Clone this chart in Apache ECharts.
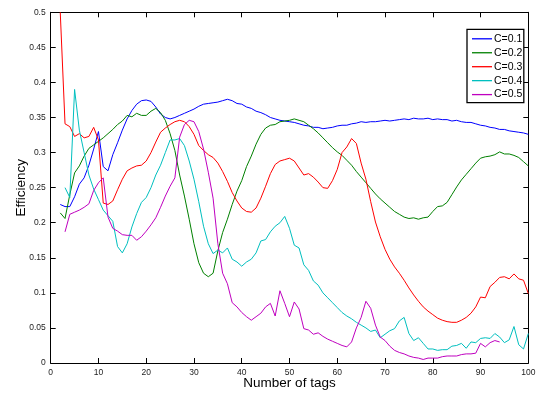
<!DOCTYPE html>
<html><head><meta charset="utf-8">
<script src="https://cdn.jsdelivr.net/npm/echarts@6/dist/echarts.min.js"></script>
<style>html,body{margin:0;padding:0;background:#fff}#c{width:537px;height:394px}</style>
</head><body><div id="c"></div>
<script>
// Number of tags (x values)
const xs = [2,3,4,5,6,7,8,9,10,
  11,12,13,14,15,16,17,18,19,20,
  21,22,23,24,25,26,27,28,29,30,
  31,32,33,34,35,36,37,38,39,40,
  41,42,43,44,45,46,47,48,49,50,
  51,52,53,54,55,56,57,58,59,60,
  61,62,63,64,65,66,67,68,69,70,
  71,72,73,74,75,76,77,78,79,80,
  81,82,83,84,85,86,87,88,89,90,
  91,92,93,94,95,96,97,98,99,100];

const seriesNames = ['C=0.1','C=0.2','C=0.3','C=0.4','C=0.5'];

const effC01 = [0.226,0.223,0.223,0.237,0.255,0.264,0.282,0.305,0.330,
  0.280,0.274,0.297,0.314,0.332,0.348,0.360,0.369,0.374,0.375,
  0.373,0.365,0.355,0.350,0.348,0.350,0.353,0.356,0.359,0.362,
  0.366,0.369,0.370,0.371,0.372,0.374,0.376,0.374,0.370,0.369,
  0.365,0.363,0.359,0.357,0.354,0.350,0.348,0.346,0.345,0.344,
  0.343,0.341,0.339,0.338,0.336,0.336,0.334,0.335,0.336,0.338,
  0.339,0.339,0.341,0.342,0.344,0.343,0.344,0.344,0.345,0.346,
  0.345,0.346,0.347,0.348,0.347,0.349,0.348,0.348,0.349,0.347,
  0.348,0.347,0.347,0.345,0.346,0.344,0.343,0.343,0.341,0.339,
  0.338,0.336,0.335,0.333,0.333,0.331,0.330,0.329,0.328,0.326];

const effC02 = [0.214,0.206,0.240,0.271,0.281,0.295,0.306,0.311,0.316,
  0.321,0.327,0.333,0.340,0.345,0.353,0.351,0.356,0.353,0.353,
  0.359,0.363,0.357,0.346,0.327,0.303,0.268,0.238,0.205,0.170,
  0.143,0.128,0.123,0.128,0.160,0.186,0.205,0.226,0.245,0.260,
  0.280,0.295,0.312,0.326,0.335,0.339,0.340,0.344,0.345,0.346,
  0.348,0.346,0.344,0.339,0.334,0.328,0.321,0.314,0.307,0.301,
  0.296,0.289,0.282,0.273,0.265,0.257,0.249,0.241,0.234,0.228,
  0.222,0.216,0.212,0.208,0.206,0.207,0.205,0.207,0.208,0.216,
  0.223,0.224,0.229,0.240,0.251,0.261,0.269,0.277,0.285,0.292,
  0.294,0.295,0.297,0.301,0.298,0.298,0.296,0.293,0.287,0.281];

const effC03 = [0.500,0.341,0.337,0.323,0.327,0.321,0.323,0.336,0.318,
  0.228,0.226,0.231,0.247,0.262,0.274,0.278,0.281,0.282,0.288,
  0.300,0.315,0.329,0.335,0.340,0.344,0.346,0.344,0.337,0.326,
  0.310,0.303,0.297,0.293,0.285,0.273,0.259,0.243,0.231,0.221,
  0.216,0.215,0.221,0.235,0.252,0.270,0.283,0.288,0.290,0.292,
  0.288,0.278,0.268,0.270,0.265,0.258,0.250,0.249,0.260,0.276,
  0.300,0.308,0.320,0.313,0.285,0.262,0.230,0.201,0.180,0.162,
  0.148,0.137,0.128,0.118,0.107,0.097,0.088,0.080,0.074,0.069,
  0.064,0.061,0.059,0.058,0.058,0.061,0.065,0.071,0.080,0.094,
  0.093,0.109,0.115,0.122,0.123,0.120,0.127,0.120,0.118,0.099];

const effC04 = [null,0.250,0.236,0.390,0.332,0.300,0.268,0.248,0.233,
  0.218,0.210,0.202,0.166,0.157,0.170,0.194,0.213,0.229,0.236,
  0.250,0.268,0.282,0.300,0.318,0.318,0.320,0.310,0.288,0.262,
  0.230,0.195,0.170,0.156,0.161,0.157,0.164,0.148,0.144,0.138,
  0.144,0.148,0.157,0.174,0.176,0.187,0.195,0.200,0.209,0.192,
  0.168,0.164,0.140,0.132,0.117,0.111,0.100,0.093,0.086,0.079,
  0.072,0.067,0.063,0.058,0.054,0.050,0.045,0.047,0.036,0.041,
  0.046,0.049,0.060,0.065,0.042,0.032,0.036,0.028,0.020,0.020,
  0.018,0.019,0.019,0.024,0.025,0.028,0.021,0.030,0.029,0.035,
  0.036,0.035,0.042,0.037,0.029,0.033,0.052,0.026,0.020,0.042];

const effC05 = [null,0.187,0.212,0.215,0.218,0.222,0.227,0.246,0.257,
  0.264,0.208,0.192,0.188,0.183,0.182,0.182,0.175,0.180,0.188,
  0.197,0.207,0.222,0.238,0.252,0.264,0.322,0.340,0.346,0.344,
  0.330,0.305,0.272,0.235,0.170,0.128,0.113,0.086,0.080,0.072,
  0.066,0.061,0.066,0.071,0.080,0.085,0.067,0.103,0.085,0.066,
  0.087,0.077,0.049,0.047,0.041,0.043,0.038,0.034,0.031,0.028,
  0.025,0.023,0.030,0.050,0.065,0.088,0.078,0.054,0.037,0.032,
  0.024,0.018,0.015,0.013,0.010,0.008,0.007,0.005,0.007,0.007,
  0.007,0.009,0.010,0.010,0.010,0.012,0.013,0.013,0.014,0.028,
  0.023,0.029,0.032,0.030,null,null,null,null,null,null];

const seriesValues = [effC01, effC02, effC03, effC04, effC05];
const colors = ['#0000ff','#008000','#ff0000','#00bfbf','#bf00bf'];

const FONT = "'Liberation Sans', Arial, Helvetica, sans-serif";
const chart = echarts.init(document.getElementById('c'), null, {renderer:'canvas'});

function fmtY(v){ return String(parseFloat(v.toFixed(2))); }

const axisCommonX = {type:'value', min:0, max:100, interval:10,
  axisLine:{onZero:false, lineStyle:{color:'#000', width:1}},
  axisTick:{inside:true, length:5, lineStyle:{color:'#000'}},
  splitLine:{show:false}};
const axisCommonY = {type:'value', min:0, max:0.5, interval:0.05,
  axisLine:{onZero:false, lineStyle:{color:'#000', width:1}},
  axisTick:{inside:true, length:5, lineStyle:{color:'#000'}},
  splitLine:{show:false}};

chart.setOption({
  animation:false,
  backgroundColor:'#fff',
  textStyle:{fontFamily:FONT},
  grid:{left:50.7, right:8.7, top:12.3, bottom:31, containLabel:false, outerBoundsMode:'none'},
  xAxis:[
    Object.assign({}, axisCommonX, {position:'bottom',
      axisLabel:{fontSize:8.5, color:'#222', margin:5, fontFamily:FONT},
      name:'Number of tags', nameLocation:'middle', nameGap:13, nameMoveOverlap:false,
      nameTextStyle:{fontSize:13.5, color:'#000', fontFamily:FONT}}),
    Object.assign({}, axisCommonX, {position:'top', axisLabel:{show:false}})
  ],
  yAxis:[
    Object.assign({}, axisCommonY, {position:'left',
      axisLabel:{fontSize:8.5, color:'#222', margin:5, fontFamily:FONT, formatter:fmtY},
      name:'Efficiency', nameLocation:'middle', nameGap:22, nameMoveOverlap:false,
      nameTextStyle:{fontSize:13.5, color:'#000', fontFamily:FONT}}),
    Object.assign({}, axisCommonY, {position:'right', axisLabel:{show:false}})
  ],
  legend:{
    orient:'vertical', left:467, top:29.3,
    data:seriesNames,
    icon:'rect',
    itemWidth:20, itemHeight:1.3, itemGap:2.95,
    padding:[4,1.5,2.5,5],
    borderColor:'#000', borderWidth:1.3, backgroundColor:'#fff',
    textStyle:{fontSize:10.5, color:'#000', fontFamily:FONT, padding:[0,0,0,-3]}
  },
  series: seriesNames.map((n,i)=>({
    name:n, type:'line', xAxisIndex:0, yAxisIndex:0,
    data: xs.map((x,j)=>[x, seriesValues[i][j]]),
    symbol:'none', connectNulls:false, clip:true,
    lineStyle:{color:colors[i], width:1}, itemStyle:{color:colors[i]},
    z: 2 + i
  }))
});
</script></body></html>
